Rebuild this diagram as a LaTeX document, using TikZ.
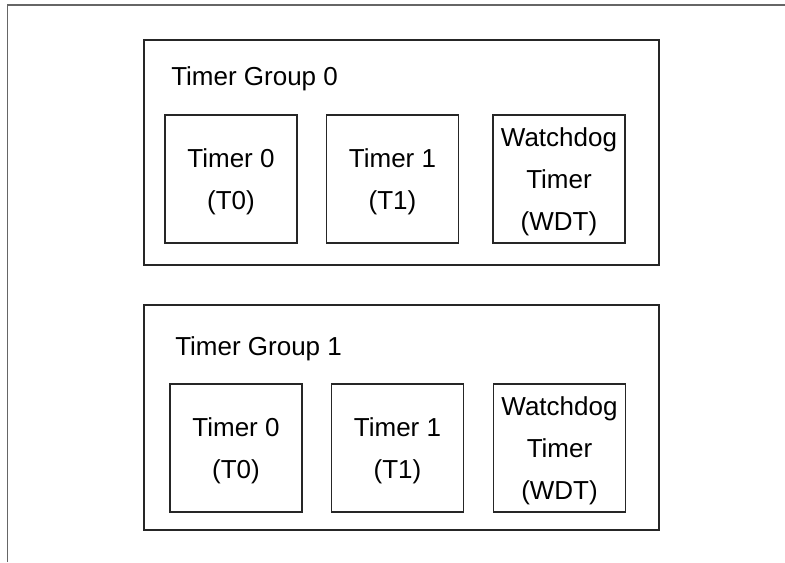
\documentclass[tikz,border=0pt]{standalone}
\usepackage{fontspec}
\setmainfont{Liberation Sans}
\begin{document}
\begin{tikzpicture}[x=0.75pt,y=-0.75pt,
  frame/.style={draw=black!60,line width=1.2pt},
  group/.style={draw=black!85,line width=0.8pt,minimum width=386.25pt,minimum height=168.75pt,inner sep=0pt},
  unit/.style={draw=black!85,line width=0.8pt,minimum width=99pt,minimum height=96pt,inner sep=0pt},
  utext/.style={inner sep=0pt,align=center,yshift=-2.25pt,font=\fontsize{19.5}{31.5}\selectfont},
  glabel/.style={anchor=base west,inner sep=0pt,font=\fontsize{19.5}{23}\selectfont}]
\useasboundingbox (0,0) rectangle (785,562);
\coordinate (fa) at (7.5,562);
\coordinate (fb) at (7.5,5);
\coordinate (fc) at (785,5);
\draw[frame] (fa) -- (fb) -- (fc);
% group 0
\node[group] (g0) at (401.5,152.5) {};
\node[glabel] (g0l) at (171,85) {Timer Group 0};
\node[unit] (g0t0) at (231,179) {};
\node[unit] (g0t1) at (392.5,179) {};
\node[unit] (g0w) at (559,179) {};
\node[utext] (g0t0x) at (g0t0.center) {Timer 0\\(T0)};
\node[utext] (g0t1x) at (g0t1.center) {Timer 1\\(T1)};
\node[utext] (g0wx) at (g0w.center) {Watchdog\\Timer\\(WDT)};
% group 1
\node[group] (g1) at (401.5,417.5) {};
\node[glabel] (g1l) at (175,355) {Timer Group 1};
\node[unit] (g1t0) at (236,448) {};
\node[unit] (g1t1) at (397.5,448) {};
\node[unit] (g1w) at (559.5,448) {};
\node[utext] (g1t0x) at (g1t0.center) {Timer 0\\(T0)};
\node[utext] (g1t1x) at (g1t1.center) {Timer 1\\(T1)};
\node[utext] (g1wx) at (g1w.center) {Watchdog\\Timer\\(WDT)};
\end{tikzpicture}
\end{document}
